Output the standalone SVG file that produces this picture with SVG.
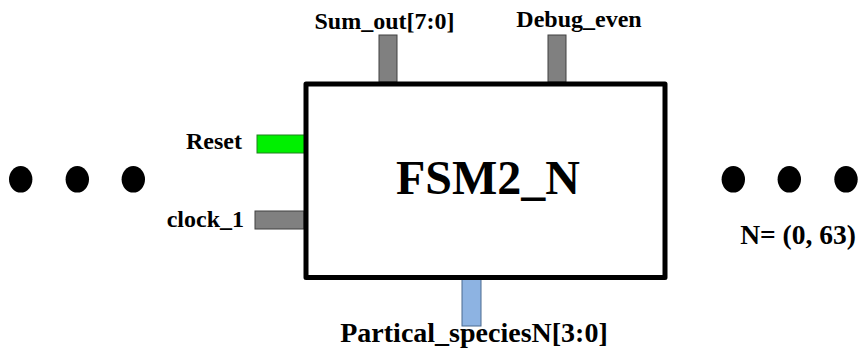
<svg xmlns="http://www.w3.org/2000/svg" width="861" height="358" viewBox="0 0 861 358">
<style>
text{font-family:"Liberation Serif","Times New Roman",serif;font-weight:bold;fill:#000}
.lbl{font-size:24px}
.gray{fill:#808080;stroke:#404040;stroke-width:1}
.dot{fill:#000}
</style>
<rect x="0" y="0" width="861" height="358" fill="#fff"/>
<g id="connectors">
<rect id="port-sum" class="gray" x="379" y="35" width="18" height="47"/>
<rect id="port-debug" class="gray" x="548" y="35" width="18" height="47"/>
<rect id="port-reset" x="257" y="135" width="49" height="18" fill="#00f000" stroke="#208020" stroke-width="1"/>
<rect id="port-clock" class="gray" x="255" y="211" width="49" height="18"/>
<rect id="port-partial" x="462" y="278" width="19" height="48" fill="#8db3e2" stroke="#4a6a90" stroke-width="1"/>
</g>
<g id="fsm">
<rect x="306" y="84" width="359" height="193.5" fill="#fff" stroke="#000" stroke-width="5" stroke-linejoin="round"/>
<text x="488" y="194" font-size="48" text-anchor="middle">FSM2_N</text>
</g>
<g id="labels">
<text class="lbl" x="384.5" y="29" text-anchor="middle">Sum_out[7:0]</text>
<text class="lbl" x="579" y="27" text-anchor="middle">Debug_even</text>
<text class="lbl" x="242" y="149" text-anchor="end">Reset</text>
<text class="lbl" x="244" y="227" text-anchor="end">clock_1</text>
<text x="474" y="342" font-size="28" text-anchor="middle">Partical_speciesN[3:0]</text>
<text x="798" y="244" font-size="27.5" text-anchor="middle">N= (0, 63)</text>
</g>
<g id="dots-left">
<ellipse class="dot" cx="20.7" cy="179.3" rx="11.7" ry="13.3"/>
<ellipse class="dot" cx="77.3" cy="179.3" rx="11.7" ry="13.3"/>
<ellipse class="dot" cx="133.3" cy="179.3" rx="11.7" ry="13.3"/>
</g>
<g id="dots-right">
<ellipse class="dot" cx="733.3" cy="179.3" rx="11.7" ry="13.3"/>
<ellipse class="dot" cx="789.3" cy="179.3" rx="11.7" ry="13.3"/>
<ellipse class="dot" cx="846" cy="179.3" rx="11.7" ry="13.3"/>
</g>
</svg>
